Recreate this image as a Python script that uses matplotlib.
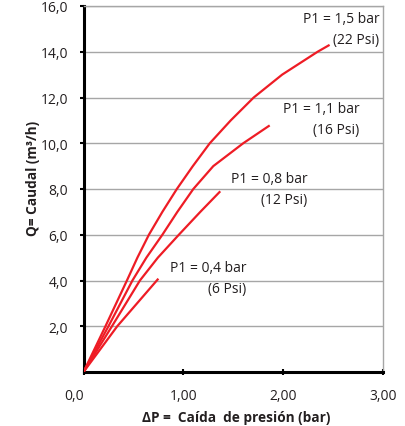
import matplotlib
matplotlib.use("Agg")
import matplotlib.pyplot as plt

# Data
dp_15 = [0, 0.22, 0.435, 0.54, 0.655, 0.79, 0.935, 1.095, 1.265, 1.475, 1.705, 1.99, 2.345, 2.465]
q_15 = [0, 2, 4, 5, 6, 7, 8, 9, 10, 11, 12, 13, 14, 14.3]
dp_11 = [0, 0.25, 0.49, 0.63, 0.79, 0.94, 1.10, 1.30, 1.60, 1.865]
q_11 = [0, 2, 4, 5, 6, 7, 8, 9, 10, 10.78]
dp_08 = [0, 0.285, 0.565, 0.745, 0.955, 1.17, 1.37]
q_08 = [0, 2, 4, 5, 6, 7, 7.9]
dp_04 = [0, 0.338, 0.75]
q_04 = [0, 2, 4.08]

labels = ["P1 = 1,5 bar\n(22 Psi)", "P1 = 1,1 bar\n(16 Psi)",
          "P1 = 0,8 bar\n(12 Psi)", "P1 = 0,4 bar\n(6 Psi)"]
label_pos = [(2.965, 15.0), (2.765, 11.05), (2.245, 7.98), (1.635, 4.09)]

yticks = [2, 4, 6, 8, 10, 12, 14, 16]
ytick_labels = ["2,0", "4,0", "6,0", "8,0", "10,0", "12,0", "14,0", "16,0"]
xticks = [0, 1, 2, 3]
xtick_labels = ["0,0", "1,00", "2,00", "3,00"]

plt.rcParams['font.family'] = ['Open Sans', 'DejaVu Sans']

fig = plt.figure(figsize=(4.05, 4.27), dpi=100)
ax = fig.add_axes([83.5/405, 54/427, (383-83.5)/405, (373-7)/427])

red = '#ee1c25'
for x, y in [(dp_15, q_15), (dp_11, q_11), (dp_08, q_08), (dp_04, q_04)]:
    ax.plot(x, y, color=red, lw=1.6, solid_capstyle='butt',
            solid_joinstyle='round', zorder=3)

for (lx, ly), t in zip(label_pos, labels):
    ax.text(lx, ly, t, ha='right', va='center', multialignment='right',
            fontsize=10, color='#231f20', linespacing=1.55)

ax.set_xlim(0, 3)
ax.set_ylim(0, 16)
ax.set_yticks(yticks)
ax.set_yticklabels(ytick_labels)
ax.set_xticks(xticks)
ax.set_xticklabels(xtick_labels)
ax.get_xticklabels()[0].set_ha('right')

for yv in yticks:
    ax.axhline(yv, color='#a6a6a6', lw=1.0, zorder=1)

ax.spines['left'].set_linewidth(2.2)
ax.spines['bottom'].set_linewidth(2.2)
ax.spines['left'].set_color('black')
ax.spines['bottom'].set_color('black')
ax.spines['top'].set_color('#a6a6a6')
ax.spines['right'].set_color('#a6a6a6')
ax.spines['top'].set_linewidth(1.0)
ax.spines['right'].set_linewidth(1.0)

ax.tick_params(axis='y', direction='out', length=3, width=1.5, pad=8,
               labelsize=10, labelcolor='#231f20')
ax.tick_params(axis='x', direction='inout', length=5, width=1.5, pad=9,
               labelsize=10, labelcolor='#231f20')

ax.set_xlabel("ΔP =  Caída  de presión (bar)", fontsize=9.8, fontweight='bold',
              color='#231f20', va='center')
ax.xaxis.set_label_coords(0.51, (373 - 418) / 366)
ax.set_ylabel("Q= Caudal (m³/h)", fontsize=9.8, fontweight='bold', color='#231f20',
              va='center', ha='center')
ax.yaxis.set_label_coords((33 - 83.5) / 299.5, (373 - 178) / 366)

fig.savefig("out.png", dpi=100)
